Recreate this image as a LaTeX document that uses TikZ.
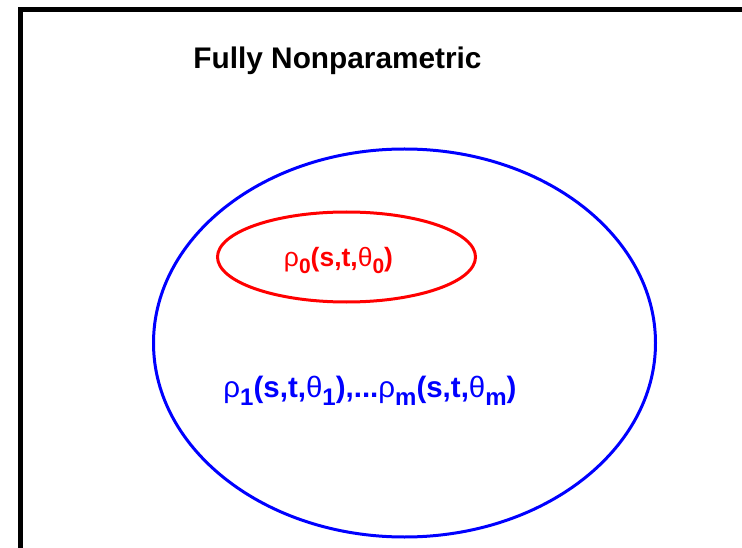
\documentclass[tikz,border=0pt]{standalone}
\usepackage{fontspec}
\setmainfont{Liberation Sans}
\usetikzlibrary{positioning, shapes.geometric}
\definecolor{setblue}{RGB}{0,0,255}
\definecolor{setred}{RGB}{255,0,0}
% lowered index, size and drop given per label
\newcommand{\lo}[3]{\raisebox{-#2pt}{\fontsize{#1}{#1}\selectfont\bfseries #3}}
\newcommand{\gr}[1]{{\mdseries #1}}
\tikzset{
  frame/.style={draw=black, line width=5pt},
  region/.style={ellipse, line width=3pt, inner sep=0pt},
  outer region/.style={region, draw=setblue},
  inner region/.style={region, draw=setred},
  title/.style={font=\fontsize{29.8}{34}\selectfont\bfseries, anchor=base},
  model/.style={font=\bfseries, anchor=base},
}

\begin{document}
\begin{tikzpicture}[x=1pt, y=-1pt]
  \useasboundingbox (0,0) rectangle (742,548);
  \clip (0,0) rectangle (742,548);
  \draw[frame] (20.5,10) rectangle (770,580);

  \node[title] (head) at (337.5,69) {Fully Nonparametric};

  \node[outer region, minimum width=502pt, minimum height=388pt] (full) at (404.5,343) {};
  \node[inner region, minimum width=258pt, minimum height=90pt] (base) at (346.5,257) {};

  \node[model, text=setred, font=\fontsize{26.5}{31}\selectfont\bfseries] (rho0) at (338.5,267)
    {\gr{ρ}\lo{21}{6.5}{0}(s,t,\gr{θ}\lo{21}{6.5}{0})};
  \node[model, text=setblue, font=\fontsize{29.5}{34}\selectfont\bfseries] (rhom) at (370,397.5)
    {\gr{ρ}\lo{24}{8}{1}(s,t,\gr{θ}\lo{24}{8}{1}),...\gr{ρ}\lo{24}{8}{m}(s,t,\gr{θ}\lo{24}{8}{m})};
\end{tikzpicture}
\end{document}
